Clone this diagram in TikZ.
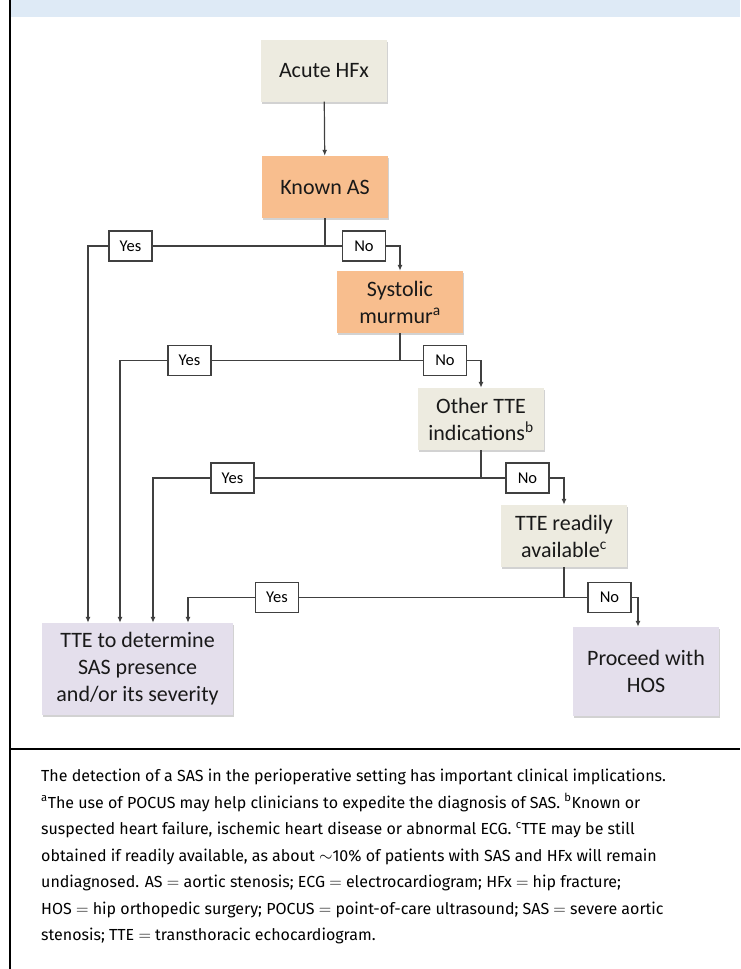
\documentclass[tikz,border=0pt]{standalone}
\usepackage{fontspec}
\setmainfont{Carlito}
\newfontfamily\capfont{Fira Sans}
\usepackage{tikz}
\usetikzlibrary{arrows.meta}
\usetikzlibrary{shadows}
\definecolor{beige}{HTML}{EDEBE0}
\definecolor{peach}{HTML}{F8BE8E}
\definecolor{lilac}{HTML}{E4DFEC}
\definecolor{band}{HTML}{DEEAF6}
\definecolor{wire}{HTML}{404040}
\tikzstyle{stepbox}=[rectangle, minimum width=126pt, minimum height=62pt, inner sep=0pt, align=center,
  font=\fontsize{22}{27}\selectfont, text=black!90, drop shadow={shadow xshift=1pt, shadow yshift=-2pt, fill=black!35, opacity=.5}]
\tikzstyle{answer}=[rectangle, draw=wire, fill=white, line width=1.1pt, minimum width=43pt, minimum height=30pt,
  inner sep=0pt, font=\fontsize{16.5}{18}\selectfont]
\tikzset{wireline/.style={draw=wire, line width=1.2pt},
  ->-/.style={wireline, -{Latex[length=6pt,width=5pt]}}}

\begin{document}
\begin{tikzpicture}[x=1pt, y=-1pt]
		\useasboundingbox (0,0) rectangle (740,969);
		\fill[band] (10,0) rectangle (740,17);
		\draw[line width=1.8pt] (10,0) -- (10,969);
		\draw[line width=1.8pt] (10,749) -- (740,749);
		\node[stepbox, fill=beige] (hfx) at (324,70.5) {Acute HFx};
		\node[stepbox, fill=peach] (known) at (325,187) {Known AS};
		\node[stepbox, fill=peach] (murmur) at (400,302) {Systolic\\murmur\textsuperscript{a}};
		\node[stepbox, fill=beige] (other) at (481,419) {Other TTE\\indications\textsuperscript{b}};
		\node[stepbox, fill=beige] (avail) at (564,536) {TTE readily\\available\textsuperscript{c}};
		\node[stepbox, fill=lilac, minimum width=191pt, minimum height=92pt] (tte) at (137.5,669) {TTE to determine\\SAS presence\\and/or its severity};
		\node[stepbox, fill=lilac, minimum width=146pt, minimum height=89pt] (hos) at (646,671.5) {Proceed with\\HOS};
		\node[answer] (yes1) at (130.5,246) {Yes};
		\node[answer] (no1) at (364,246) {No};
		\node[answer] (yes2) at (189.5,360.5) {Yes};
		\node[answer] (no2) at (445,360.5) {No};
		\node[answer] (yes3) at (232.5,478) {Yes};
		\node[answer] (no3) at (527.5,478) {No};
		\node[answer] (yes4) at (277,597.5) {Yes};
		\node[answer] (no4) at (609.5,597.5) {No};
		\draw[->-] (hfx) -- (known);
		\draw[wireline] (known.south) -- (known.south |- yes1) coordinate (split1);
		\draw[wireline] (split1) -- (yes1.east);
		\draw[wireline] (split1) -- (no1.west);
		\draw[->-] (yes1.west) -| ([xshift=-49.5pt]tte.north);
		\draw[->-] (no1.east) -| (murmur.north);
		\draw[wireline] (murmur.south) -- (murmur.south |- yes2) coordinate (split2);
		\draw[wireline] (split2) -- (yes2.east);
		\draw[wireline] (split2) -- (no2.west);
		\draw[->-] (yes2.west) -| ([xshift=-17.5pt]tte.north);
		\draw[->-] (no2.east) -| (other.north);
		\draw[wireline] (other.south) -- (other.south |- yes3) coordinate (split3);
		\draw[wireline] (split3) -- (yes3.east);
		\draw[wireline] (split3) -- (no3.west);
		\draw[->-] (yes3.west) -| ([xshift=15.5pt]tte.north);
		\draw[->-] (no3.east) -| (avail.north);
		\draw[wireline] (avail.south) -- (avail.south |- yes4) coordinate (split4);
		\draw[wireline] (split4) -- (yes4.east);
		\draw[wireline] (split4) -- (no4.west);
		\draw[->-] (yes4.west) -| ([xshift=50.5pt]tte.north);
		\draw[->-] (no4.east) -| ([xshift=-8pt]hos.north);
		\node[anchor=north west, align=left, inner sep=0pt, font={\capfont\fontsize{16}{26.5}\selectfont}] (caption) at (41,769)
		{The detection of a SAS in the perioperative setting has important clinical implications.\\
		\textsuperscript{a}The use of POCUS may help clinicians to expedite the diagnosis of SAS. \textsuperscript{b}Known or\\
		suspected heart failure, ischemic heart disease or abnormal ECG. \textsuperscript{c}TTE may be still\\
		obtained if readily available, as about $\sim$10\% of patients with SAS and HFx will remain\\
		undiagnosed. AS $=$ aortic stenosis; ECG $=$ electrocardiogram; HFx $=$ hip fracture;\\
		HOS $=$ hip orthopedic surgery; POCUS $=$ point-of-care ultrasound; SAS $=$ severe aortic\\
		stenosis; TTE $=$ transthoracic echocardiogram.};
		\end{tikzpicture}
\end{document}
